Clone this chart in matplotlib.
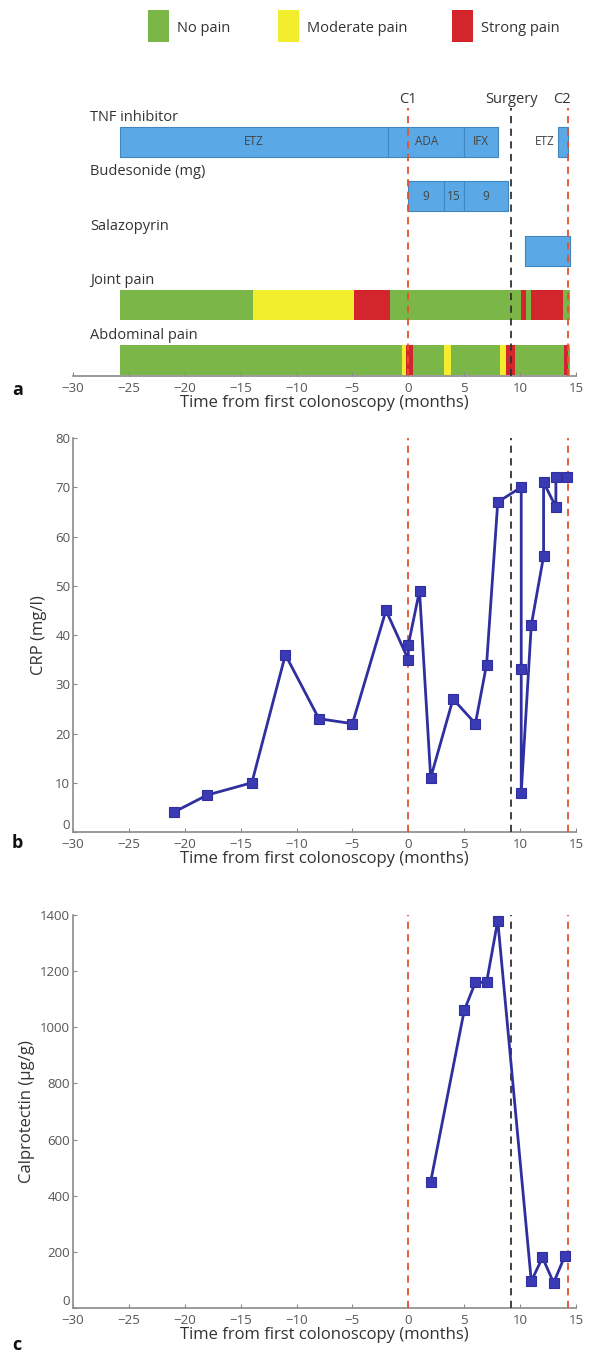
import matplotlib
matplotlib.use("Agg")
import matplotlib.pyplot as plt
from matplotlib.patches import Rectangle
from matplotlib.transforms import blended_transform_factory

plt.rcParams["font.family"] = ["Open Sans", "DejaVu Sans"]

# =========================
# DATA
# =========================
pain_names = ["No pain", "Moderate pain", "Strong pain"]
pain_colors = {"none": "#7ab648", "moderate": "#f2ee2e", "strong": "#d3262c"}
pain_keys = ["none", "moderate", "strong"]

tnf_start = [-25.8, -1.8, 5.0, 13.4]
tnf_end = [-1.8, 5.0, 8.0, 14.3]
tnf_labels = ["ETZ", "ADA", "IFX", "ETZ"]

bud_start = [0.0, 3.2, 5.0]
bud_end = [3.2, 5.0, 8.9]
bud_labels = ["9", "15", "9"]

sal_start = [10.4]
sal_end = [14.5]

joint_edges = [-25.8, -13.9, -4.9, -1.6, 10.1, 10.5, 10.95, 13.8, 14.5]
joint_levels = ["none", "moderate", "strong", "none", "strong", "none", "strong", "none"]

abd_edges = [-25.8, -0.55, -0.2, 0.4, 3.2, 3.8, 8.2, 8.7, 9.5, 13.9, 14.3, 14.5]
abd_levels = ["none", "moderate", "strong", "none", "moderate", "none",
              "moderate", "strong", "none", "strong", "none"]

row_names = ["TNF inhibitor", "Budesonide (mg)", "Salazopyrin", "Joint pain", "Abdominal pain"]

event_month = [0, 9.2, 14.3]
event_label = ["C1", "Surgery", "C2"]

crp_month = [-21, -18, -14, -11, -8, -5, -2, 0, 0, 1, 2, 4, 6, 7, 8,
             10.1, 10.1, 10.1, 11, 12.1, 12.1, 13.2, 13.2, 14.2]
crp_value = [4, 7.5, 10, 36, 23, 22, 45, 35, 38, 49, 11, 27, 22, 34, 67,
             70, 33, 8, 42, 56, 71, 66, 72, 72]

calpro_month = [2, 5, 6, 7, 8, 11, 12, 13, 14]
calpro_value = [450, 1060, 1160, 1160, 1380, 95, 180, 90, 185]

x_ticks = [-30, -25, -20, -15, -10, -5, 0, 5, 10, 15]
xlabel = "Time from first colonoscopy (months)"

# =========================
# STYLE
# =========================
BLUE = "#5aa9e6"
BLUE_EDGE = "#3f86c0"
LINE = "#2f2f9f"
MARK = "#3a3ab4"
RED_DASH = "#e5522b"
BLACK_DASH = "#333333"
AX_COL = "#8a8a8a"
TXT = "#333333"
TICK_TXT = "#555555"


def style_axis(ax, left=True):
    for s in ["top", "right"]:
        ax.spines[s].set_visible(False)
    ax.spines["bottom"].set_color(AX_COL)
    ax.spines["bottom"].set_linewidth(1.2)
    if left:
        ax.spines["left"].set_color(AX_COL)
        ax.spines["left"].set_linewidth(1.2)
    else:
        ax.spines["left"].set_visible(False)
        ax.set_yticks([])
    ax.tick_params(direction="in", length=3, color=AX_COL,
                   labelsize=9.5, labelcolor=TICK_TXT, pad=2)
    ax.tick_params(axis="x", pad=4)
    ax.set_xlim(-30, 15)
    ax.set_xticks(x_ticks)
    ax.set_xticklabels(["\u2212%d" % -t if t < 0 else str(t) for t in x_ticks])
    ax.set_xlabel(xlabel, fontsize=12, color=TXT, labelpad=0)


def event_lines(ax, ymax=1.0):
    for m, lab in zip(event_month, event_label):
        col = BLACK_DASH if lab == "Surgery" else RED_DASH
        ax.axvline(m, ymin=0, ymax=ymax, color=col, lw=1.3,
                   linestyle=(0, (4, 3)), zorder=3)


W, H = 591, 1358
fig = plt.figure(figsize=(W / 100, H / 100), dpi=100)


def fbox(left, top, right, bottom):
    return [left / W, 1 - bottom / H, (right - left) / W, (bottom - top) / H]


# =========================
# PANEL A
# =========================
ax_a = fig.add_axes(fbox(73, 95, 576, 376))
style_axis(ax_a, left=False)
ax_a.set_ylim(-0.294, 4.862)
bar_h = 0.55

y_tnf, y_bud, y_sal, y_joint, y_abd = 4, 3, 2, 1, 0

for s, e in zip(tnf_start, tnf_end):
    ax_a.barh(y_tnf, e - s, left=s, height=bar_h, color=BLUE,
              edgecolor=BLUE_EDGE, linewidth=0.8)
for i, (s, e, lab) in enumerate(zip(tnf_start, tnf_end, tnf_labels)):
    if i == len(tnf_start) - 1:
        ax_a.text(s - 0.35, y_tnf, lab, ha="right", va="center",
                  fontsize=8.5, color="#444444")
    else:
        ax_a.text((s + e) / 2, y_tnf, lab, ha="center", va="center",
                  fontsize=8.5, color="#444444")

for s, e, lab in zip(bud_start, bud_end, bud_labels):
    ax_a.barh(y_bud, e - s, left=s, height=bar_h, color=BLUE,
              edgecolor=BLUE_EDGE, linewidth=0.8)
    ax_a.text((s + e) / 2, y_bud, lab, ha="center", va="center",
              fontsize=8.5, color="#444444")

for s, e in zip(sal_start, sal_end):
    ax_a.barh(y_sal, e - s, left=s, height=bar_h, color=BLUE,
              edgecolor=BLUE_EDGE, linewidth=0.8)

for y, edges, levels in [(y_joint, joint_edges, joint_levels),
                         (y_abd, abd_edges, abd_levels)]:
    for s, e, lv in zip(edges[:-1], edges[1:], levels):
        ax_a.barh(y, e - s, left=s, height=bar_h, color=pain_colors[lv],
                  linewidth=0)

for y, name in zip([y_tnf, y_bud, y_sal, y_joint, y_abd], row_names):
    ax_a.text(-28.5, y + 0.45, name, ha="left", va="center",
              fontsize=10.5, color=TXT)

event_lines(ax_a, ymax=0.955)
trans = blended_transform_factory(ax_a.transData, ax_a.transAxes)
for m, lab in zip(event_month, event_label):
    x = m - 0.6 if lab == "C2" else m
    ax_a.text(x, 0.985, lab, transform=trans, ha="center", va="center",
              fontsize=10.5, color=TXT)

# legend
legend_x = [148, 278, 452]
for x0, key, name in zip(legend_x, pain_keys, pain_names):
    fig.add_artist(Rectangle((x0 / W, 1 - 42 / H), 21 / W, 32 / H,
                             transform=fig.transFigure,
                             facecolor=pain_colors[key], edgecolor="none"))
    fig.text((x0 + 29) / W, 1 - 28 / H, name, ha="left", va="center",
             fontsize=10.5, color=TXT)

# =========================
# PANEL B
# =========================
ax_b = fig.add_axes(fbox(73, 438, 576, 832))
style_axis(ax_b)
ax_b.set_ylim(0, 80)
ax_b.set_yticks(range(0, 81, 10))
event_lines(ax_b)
ax_b.plot(crp_month, crp_value, color=LINE, lw=2, marker="s", ms=7,
          mfc=MARK, mec=LINE, mew=0.8, zorder=4, clip_on=False)
ax_b.set_ylabel("CRP (mg/l)", fontsize=12, color=TXT, labelpad=6)

# =========================
# PANEL C
# =========================
ax_c = fig.add_axes(fbox(73, 915, 576, 1308))
style_axis(ax_c)
ax_c.set_ylim(0, 1400)
ax_c.set_yticks(range(0, 1401, 200))
event_lines(ax_c)
ax_c.plot(calpro_month, calpro_value, color=LINE, lw=2, marker="s", ms=7,
          mfc=MARK, mec=LINE, mew=0.8, zorder=4, clip_on=False)
ax_c.set_ylabel("Calprotectin (\u00b5g/g)", fontsize=12, color=TXT, labelpad=4)

# lift the "0" y labels so they sit above the "-30" x labels
for ax in [ax_b, ax_c]:
    ax.yaxis.get_major_ticks()[0].label1.set_verticalalignment("bottom")

# panel letters
for lab, y in zip(["a", "b", "c"], [390, 843, 1345]):
    fig.text(12 / W, 1 - y / H, lab, ha="left", va="center",
             fontsize=13, fontweight="bold", color="#111111")

fig.savefig("out.png", dpi=100)
plt.close(fig)
